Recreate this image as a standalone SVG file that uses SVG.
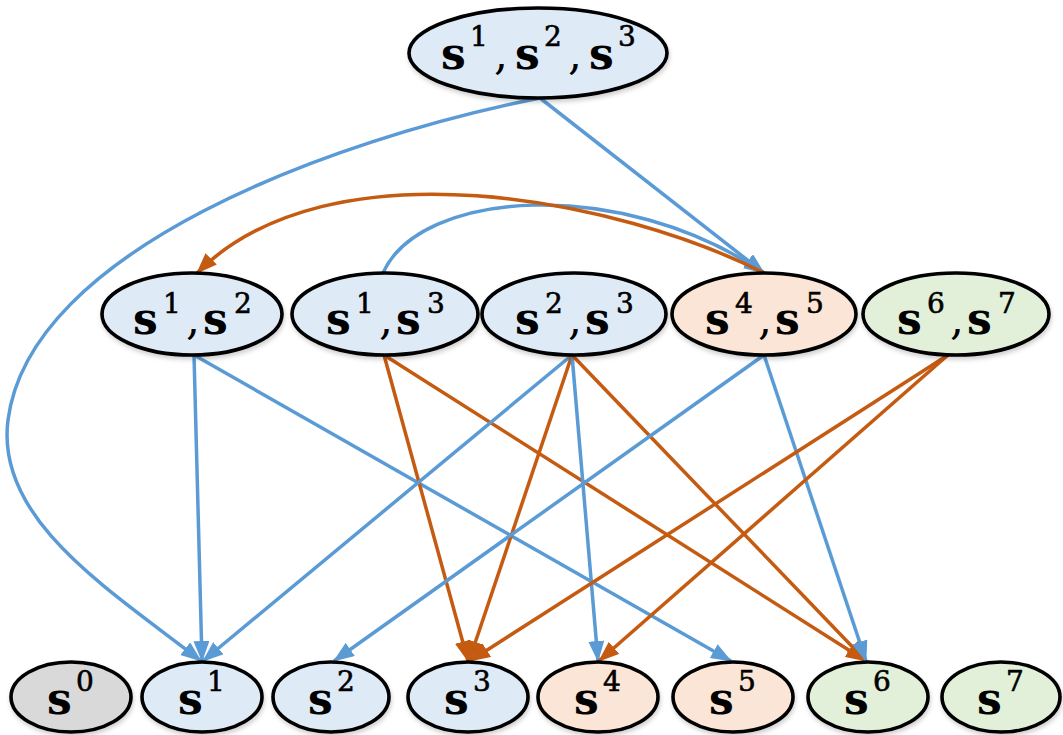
<svg xmlns="http://www.w3.org/2000/svg" width="1063" height="735" viewBox="0 0 1063 735">
<defs>
<style>
.n{stroke:#000;stroke-width:3.6;filter:url(#sh)}
.bl{fill:#DEEBF7}.or{fill:#FBE5D6}.gr{fill:#E2F0D9}.gy{fill:#D9D9D9}
.t{font-family:"DejaVu Serif","Liberation Serif",serif;fill:#000}
.s{font-size:44px;font-weight:bold}
.d{font-size:28px;font-weight:normal;stroke:#000;stroke-width:0.6}
.c{font-size:44px;font-weight:normal}
.eb{fill:none;stroke:#5B9BD5;stroke-width:3.5;marker-end:url(#ab)}
.eo{fill:none;stroke:#C55A11;stroke-width:3.5;marker-end:url(#ao)}
</style>
<filter id="sh" x="-10%" y="-10%" width="120%" height="130%"><feDropShadow dx="1" dy="3" stdDeviation="2" flood-color="#000" flood-opacity="0.18"/></filter>
<marker id="ab" viewBox="0 0 21 16" refX="20" refY="8" markerWidth="21" markerHeight="16" markerUnits="userSpaceOnUse" orient="auto"><path d="M0,0 L21,8 L0,16 Z" fill="#5B9BD5"/></marker>
<marker id="ao" viewBox="0 0 21 16" refX="20" refY="8" markerWidth="21" markerHeight="16" markerUnits="userSpaceOnUse" orient="auto"><path d="M0,0 L21,8 L0,16 Z" fill="#C55A11"/></marker>
</defs>
<rect width="1063" height="735" fill="#fff"/>
<g id="connectors">
<path class="eb" d="M540,98 C330,140 30,250 8,420 C-5,520 110,590 201,661"/>
<path class="eb" d="M540,98 L764,273"/>
<path class="eb" d="M383,273 C420,190 620,175 764,273"/>
<path class="eo" d="M764,273 C620,200 330,140 197,273"/>
<path class="eb" d="M194,355 L202,661"/>
<path class="eb" d="M194,355 L731,661"/>
<path class="eo" d="M384,355 L468,661"/>
<path class="eo" d="M384,355 L866,661"/>
<path class="eb" d="M572,355 L203,661"/>
<path class="eo" d="M572,355 L469,661"/>
<path class="eb" d="M572,355 L598,661"/>
<path class="eo" d="M572,355 L866,661"/>
<path class="eb" d="M764,355 L334,661"/>
<path class="eb" d="M764,355 L866,661"/>
<path class="eo" d="M948,355 L470,661"/>
<path class="eo" d="M948,355 L599,661"/>
</g>
<g id="n123"><ellipse class="n bl" cx="538" cy="53" rx="129" ry="45"/><text class="t"><tspan class="s" x="441" y="69">s</tspan><tspan class="d" x="470" y="46">1</tspan><tspan class="c" x="494" y="69">,</tspan><tspan class="s" x="515" y="69">s</tspan><tspan class="d" x="544" y="46">2</tspan><tspan class="c" x="568" y="69">,</tspan><tspan class="s" x="589" y="69">s</tspan><tspan class="d" x="618" y="46">3</tspan></text></g>
<g id="n12"><ellipse class="n bl" cx="192" cy="314" rx="90" ry="41"/><text class="t"><tspan class="s" x="133" y="334">s</tspan><tspan class="d" x="163" y="313">1</tspan><tspan class="c" x="186" y="334">,</tspan><tspan class="s" x="203" y="334">s</tspan><tspan class="d" x="234" y="313">2</tspan></text></g>
<g id="n13"><ellipse class="n bl" cx="385" cy="314" rx="93" ry="41"/><text class="t"><tspan class="s" x="326" y="334">s</tspan><tspan class="d" x="356" y="313">1</tspan><tspan class="c" x="379" y="334">,</tspan><tspan class="s" x="396" y="334">s</tspan><tspan class="d" x="427" y="313">3</tspan></text></g>
<g id="n23"><ellipse class="n bl" cx="574" cy="314" rx="92" ry="41"/><text class="t"><tspan class="s" x="515" y="334">s</tspan><tspan class="d" x="545" y="313">2</tspan><tspan class="c" x="568" y="334">,</tspan><tspan class="s" x="585" y="334">s</tspan><tspan class="d" x="616" y="313">3</tspan></text></g>
<g id="n45"><ellipse class="n or" cx="764" cy="314" rx="92" ry="41"/><text class="t"><tspan class="s" x="705" y="334">s</tspan><tspan class="d" x="735" y="313">4</tspan><tspan class="c" x="758" y="334">,</tspan><tspan class="s" x="775" y="334">s</tspan><tspan class="d" x="806" y="313">5</tspan></text></g>
<g id="n67"><ellipse class="n gr" cx="956" cy="314" rx="93" ry="41"/><text class="t"><tspan class="s" x="897" y="334">s</tspan><tspan class="d" x="927" y="313">6</tspan><tspan class="c" x="950" y="334">,</tspan><tspan class="s" x="967" y="334">s</tspan><tspan class="d" x="998" y="313">7</tspan></text></g>
<g id="s0"><ellipse class="n gy" cx="71" cy="697" rx="60" ry="35"/><text class="t"><tspan class="s" x="47" y="714">s</tspan><tspan class="d" x="76" y="691">0</tspan></text></g>
<g id="s1"><ellipse class="n bl" cx="202" cy="697" rx="60" ry="35"/><text class="t"><tspan class="s" x="178" y="714">s</tspan><tspan class="d" x="207" y="691">1</tspan></text></g>
<g id="s2"><ellipse class="n bl" cx="331" cy="697" rx="58" ry="35"/><text class="t"><tspan class="s" x="308" y="714">s</tspan><tspan class="d" x="337" y="691">2</tspan></text></g>
<g id="s3"><ellipse class="n bl" cx="468" cy="697" rx="60" ry="35"/><text class="t"><tspan class="s" x="444" y="714">s</tspan><tspan class="d" x="473" y="691">3</tspan></text></g>
<g id="s4"><ellipse class="n or" cx="598" cy="697" rx="60" ry="35"/><text class="t"><tspan class="s" x="574" y="714">s</tspan><tspan class="d" x="603" y="691">4</tspan></text></g>
<g id="s5"><ellipse class="n or" cx="733" cy="697" rx="60" ry="35"/><text class="t"><tspan class="s" x="709" y="714">s</tspan><tspan class="d" x="738" y="691">5</tspan></text></g>
<g id="s6"><ellipse class="n gr" cx="868" cy="697" rx="60" ry="35"/><text class="t"><tspan class="s" x="844" y="714">s</tspan><tspan class="d" x="873" y="691">6</tspan></text></g>
<g id="s7"><ellipse class="n gr" cx="1001" cy="697" rx="59" ry="35"/><text class="t"><tspan class="s" x="977" y="714">s</tspan><tspan class="d" x="1006" y="691">7</tspan></text></g>
</svg>
